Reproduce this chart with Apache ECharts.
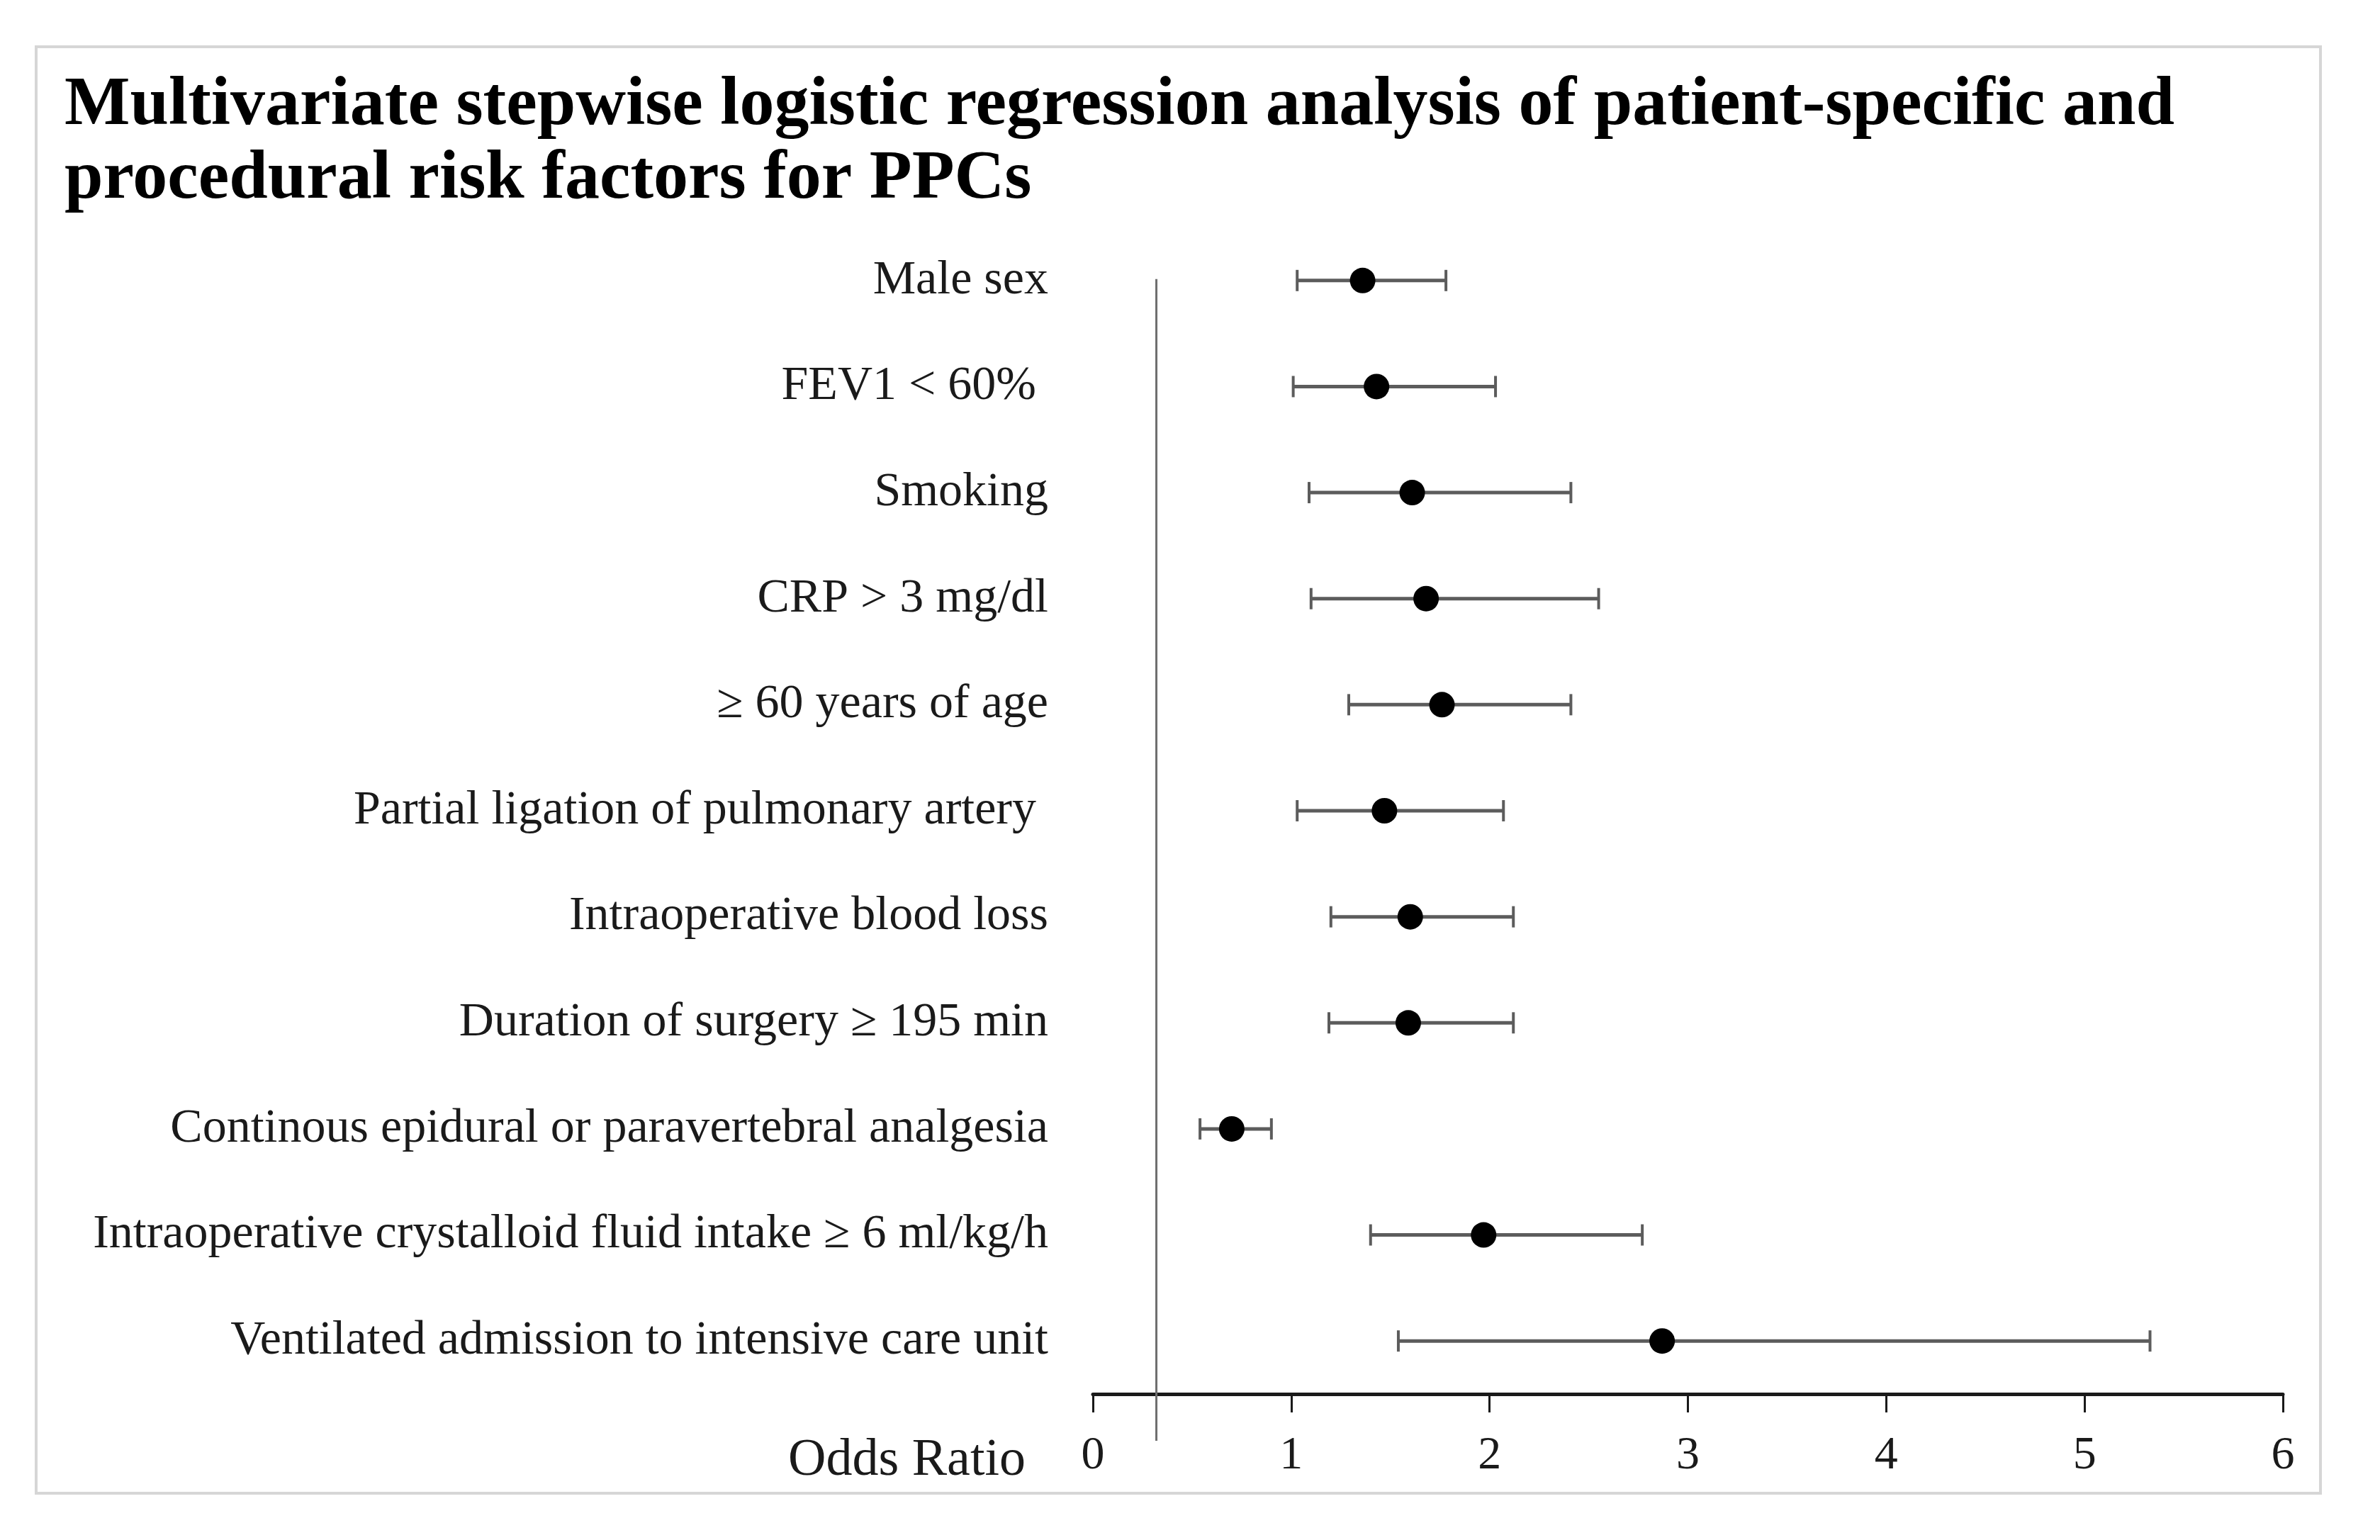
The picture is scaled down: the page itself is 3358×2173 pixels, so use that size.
<!DOCTYPE html>
<html>
<head>
<meta charset="utf-8">
<script src="https://cdn.jsdelivr.net/npm/echarts@6/dist/echarts.min.js"></script>
<style>
html,body{margin:0;padding:0;background:#fff;}
#chart{width:3358px;height:2173px;}
</style>
</head>
<body>
<div id="chart"></div>
<script>
const titleText = 'Multivariate stepwise logistic regression analysis of patient-specific and\nprocedural risk factors for PPCs';
const categories = [
  'Male sex',
  'FEV1 < 60% ',
  'Smoking',
  'CRP > 3 mg/dl',
  '\u2265 60 years of age',
  'Partial ligation of pulmonary artery ',
  'Intraoperative blood loss',
  'Duration of surgery \u2265 195 min',
  'Continous epidural or paravertebral analgesia',
  'Intraoperative crystalloid fluid intake \u2265 6 ml/kg/h',
  'Ventilated admission to intensive care unit'
];
const oddsRatio = [1.36, 1.43, 1.61, 1.68, 1.76, 1.47, 1.60, 1.59, 0.70, 1.97, 2.87];
const ciLower   = [1.03, 1.01, 1.09, 1.10, 1.29, 1.03, 1.20, 1.19, 0.54, 1.40, 1.54];
const ciUpper   = [1.78, 2.03, 2.41, 2.55, 2.41, 2.07, 2.12, 2.12, 0.90, 2.77, 5.33];
const xMin = 0, xMax = 6, xInterval = 1;
const refLineValue = 0.32;
const xAxisName = 'Odds Ratio';

const FONT = 'Liberation Serif';
const chart = echarts.init(document.getElementById('chart'));

const ciData = categories.map((c, i) => [ciLower[i], ciUpper[i], i]);
const pointData = categories.map((c, i) => [oddsRatio[i], i]);

const option = {
  backgroundColor: '#fff',
  animation: false,
  title: {
    text: titleText,
    left: 86,
    top: 93,
    textStyle: {
      fontFamily: FONT,
      fontWeight: 'bold',
      fontSize: 98,
      lineHeight: 104,
      color: '#000'
    }
  },
  grid: { left: 1542, right: 137, top: 321, bottom: 206, containLabel: false },
  xAxis: {
    type: 'value',
    min: xMin, max: xMax, interval: xInterval,
    axisLine: { show: true, lineStyle: { color: '#1a1a1a', width: 5 } },
    axisTick: { show: true, length: 26, lineStyle: { color: '#1a1a1a', width: 3 } },
    splitLine: { show: false },
    axisLabel: { fontFamily: FONT, fontSize: 66, color: '#1a1a1a', margin: 55 }
  },
  yAxis: {
    type: 'category',
    inverse: true,
    data: categories,
    axisLine: { show: false },
    axisTick: { show: false },
    splitLine: { show: false },
    axisLabel: { fontFamily: FONT, fontSize: 68, color: '#1a1a1a', margin: 63 }
  },
  series: [
    {
      type: 'custom',
      data: ciData,
      encode: { x: [0, 1], y: 2 },
      z: 2,
      renderItem: function (params, api) {
        const lo = api.coord([api.value(0), api.value(2)]);
        const hi = api.coord([api.value(1), api.value(2)]);
        const h = 15;
        const st = { stroke: '#5c5c5c', lineWidth: 5 };
        const cs = { stroke: '#5c5c5c', lineWidth: 4 };
        return {
          type: 'group',
          children: [
            { type: 'line', shape: { x1: lo[0], y1: lo[1], x2: hi[0], y2: hi[1] }, style: st },
            { type: 'line', shape: { x1: lo[0], y1: lo[1] - h, x2: lo[0], y2: lo[1] + h }, style: cs },
            { type: 'line', shape: { x1: hi[0], y1: hi[1] - h, x2: hi[0], y2: hi[1] + h }, style: cs }
          ]
        };
      }
    },
    {
      type: 'scatter',
      data: pointData,
      symbol: 'circle',
      symbolSize: 36,
      z: 3,
      itemStyle: { color: '#000', opacity: 1 }
    }
  ]
};
chart.setOption(option);

const topPt = chart.convertToPixel({ xAxisIndex: 0, yAxisIndex: 0 }, [refLineValue, 0]);
const axisPt = chart.convertToPixel({ xAxisIndex: 0, yAxisIndex: 0 }, [xMin, categories.length - 1]);
const axisY = chart.getHeight() - 206;
chart.setOption({
  graphic: [
    {
      type: 'rect',
      shape: { x: 51, y: 66, width: 3223, height: 2041 },
      style: { fill: 'none', stroke: '#d6d6d6', lineWidth: 4 },
      silent: true
    },
    {
      type: 'line',
      shape: { x1: topPt[0], y1: topPt[1] - 2, x2: topPt[0], y2: axisY + 66 },
      style: { stroke: '#6e6e6e', lineWidth: 3 },
      z: 1,
      silent: true
    },
    {
      type: 'text',
      x: axisPt[0] - 95,
      y: axisY + 95,
      style: {
        text: xAxisName,
        fontFamily: FONT,
        fontSize: 74,
        fill: '#1a1a1a',
        align: 'right',
        verticalAlign: 'middle'
      },
      silent: true
    }
  ]
});
</script>
</body>
</html>
